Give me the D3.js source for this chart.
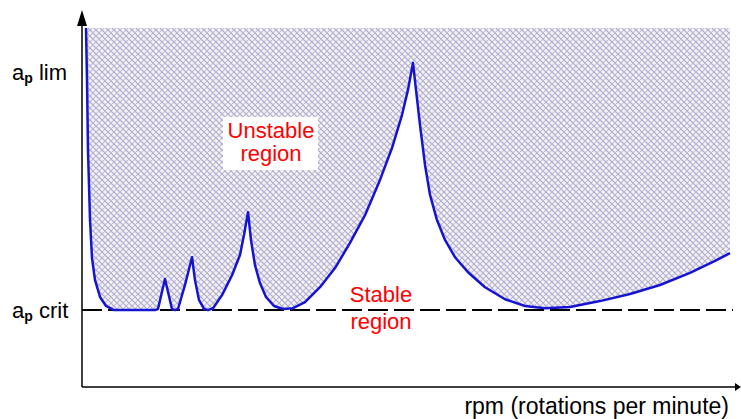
<!DOCTYPE html>
<html>
<head>
<meta charset="utf-8">
<script src="https://cdn.jsdelivr.net/npm/d3@7"></script>
<style>
  body { margin: 0; background: #fff; }
  svg { display: block; font-family: "Liberation Sans", Arial, sans-serif; }
</style>
</head>
<body>
<div id="chart"></div>
<script>
// stability lobe curve (rpm, ap), arbitrary units 0..100
var rpm = [0.61, 0.76, 0.91, 1.22, 1.52, 1.98, 2.74, 3.65, 4.86, 11.09, 11.55, 12.61, 13.68, 14.13, 14.59, 15.65, 16.72, 17.17, 17.78, 18.54, 19.15, 19.91, 21.28, 22.80, 24.01, 24.62, 25.23, 25.68, 26.29, 27.05, 27.96, 29.18, 30.55, 32.07, 33.89, 36.17, 38.45, 40.73, 43.01, 45.29, 47.11, 48.63, 49.54, 50.30, 50.76, 51.37, 52.13, 52.89, 53.95, 55.17, 56.69, 58.66, 61.25, 64.29, 67.33, 70.36, 74.16, 78.72, 83.28, 87.84, 92.40, 96.20, 98.48];
var apLimit = [95.2, 81.3, 62.7, 44.0, 33.9, 28.0, 23.5, 21.1, 20.0, 20.0, 20.3, 28.3, 20.3, 20.0, 20.3, 26.7, 34.1, 28.0, 22.7, 20.3, 20.0, 20.5, 24.0, 29.3, 34.7, 40.0, 46.1, 38.7, 32.0, 27.2, 23.5, 21.1, 20.3, 20.5, 22.1, 26.1, 31.2, 37.9, 45.3, 54.7, 63.2, 72.0, 78.7, 85.9, 78.7, 69.3, 58.7, 50.7, 44.0, 38.7, 34.1, 30.1, 26.1, 22.9, 21.1, 20.5, 20.8, 22.4, 24.3, 26.7, 29.9, 33.1, 35.2];
var apCrit = 20;
var apLim = 83.5;
var hatchTop = 95.2;

var W = 741, H = 419;
var x = d3.scaleLinear().domain([0, 100]).range([82, 740]);
var y = d3.scaleLinear().domain([-0.5, 100]).range([387, 10]);

var svg = d3.select("#chart").append("svg")
  .attr("width", W).attr("height", H);

// crosshatch pattern
var defs = svg.append("defs");
var pat = defs.append("pattern")
  .attr("id", "hatch")
  .attr("patternUnits", "userSpaceOnUse")
  .attr("width", 6).attr("height", 6);
pat.append("rect").attr("width", 6).attr("height", 6).attr("fill", "#f4f3f8");
pat.append("path").attr("d", "M0,0L6,6")
  .attr("stroke", "#aea6d8").attr("stroke-width", 1.2);
pat.append("path").attr("d", "M6,0L0,6")
  .attr("stroke", "#bfbec8").attr("stroke-width", 1.2);

var pts = rpm.map(function(r, i){ return [r, apLimit[i]]; });

// unstable region: between the curve and the top
var area = d3.area()
  .x(function(d){ return x(d[0]); })
  .y0(y(hatchTop))
  .y1(function(d){ return y(d[1]); });
svg.append("path").datum(pts)
  .attr("d", area)
  .attr("fill", "url(#hatch)");

// dashed critical line
svg.append("line")
  .attr("x1", x(0)).attr("x2", 733)
  .attr("y1", y(apCrit)).attr("y2", y(apCrit))
  .attr("stroke", "#000").attr("stroke-width", 2)
  .attr("stroke-dasharray", "20,6");

// stability curve
var line = d3.line()
  .x(function(d){ return x(d[0]); })
  .y(function(d){ return y(d[1]); });
svg.append("path").datum(pts)
  .attr("d", line)
  .attr("fill", "none")
  .attr("stroke", "#1414d2")
  .attr("stroke-width", 2.5)
  .attr("stroke-linejoin", "round");

// axes
var y0 = y(y.domain()[0]);
svg.append("line")
  .attr("x1", x(0)).attr("x2", x(0))
  .attr("y1", y0).attr("y2", 22)
  .attr("stroke", "#000").attr("stroke-width", 1.5);
svg.append("path")
  .attr("d", "M" + x(0) + ",10l-5,16h10z")
  .attr("fill", "#000");
svg.append("line")
  .attr("x1", x(0)).attr("x2", 736)
  .attr("y1", y0).attr("y2", y0)
  .attr("stroke", "#000").attr("stroke-width", 1.5);
svg.append("path")
  .attr("d", "M741," + y0 + "l-6,-4v8z")
  .attr("fill", "#000");

// y labels
function apLabel(txt, v){
  var t = svg.append("text")
    .attr("x", 12).attr("y", y(v) + 8)
    .attr("font-size", 22).attr("fill", "#000");
  t.append("tspan").text("a");
  t.append("tspan").text("p").attr("font-size", 14).attr("font-weight", "bold").attr("dy", 3);
  t.append("tspan").text(" " + txt).attr("dy", -3);
}
apLabel("lim", apLim);
apLabel("crit", apCrit);

// x label
svg.append("text")
  .attr("x", 729).attr("y", 414)
  .attr("text-anchor", "end")
  .attr("font-size", 23)
  .text("rpm (rotations per minute)");

// region labels
svg.append("rect")
  .attr("x", 223).attr("y", 117).attr("width", 95).attr("height", 53)
  .attr("fill", "#fff");
[["Unstable", 138], ["region", 161]].forEach(function(d){
  svg.append("text")
    .attr("x", 271).attr("y", d[1])
    .attr("text-anchor", "middle")
    .attr("font-size", 22).attr("fill", "#f00")
    .text(d[0]);
});
[["Stable", 302], ["region", 329]].forEach(function(d){
  svg.append("text")
    .attr("x", 381).attr("y", d[1])
    .attr("text-anchor", "middle")
    .attr("font-size", 22).attr("fill", "#f00")
    .text(d[0]);
});
</script>
</body>
</html>
